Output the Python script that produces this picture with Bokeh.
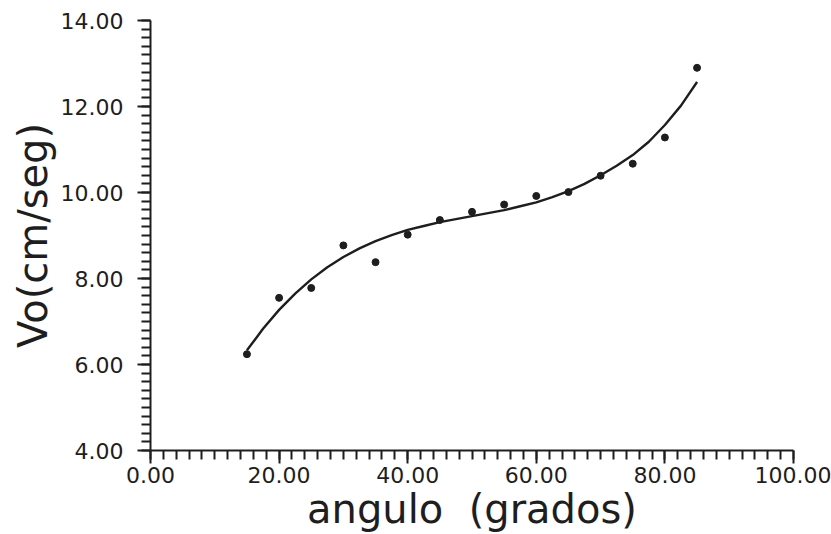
from bokeh.plotting import figure
from bokeh.models import SingleIntervalTicker, PrintfTickFormatter
from bokeh.embed import file_html
from bokeh.resources import INLINE

# measured points
angulo = [15, 20, 25, 30, 35, 40, 45, 50, 55, 60, 65, 70, 75, 80, 85]
vo = [6.24, 7.55, 7.78, 8.77, 8.38, 9.02, 9.36, 9.55, 9.72, 9.92, 10.01, 10.39, 10.67, 11.28, 12.90]

# fitted curve
curve_x = [15, 17.5, 20, 22.5, 25, 27.5, 30, 32.5, 35, 37.5, 40, 42.5, 45, 47.5, 50,
           52.5, 55, 57.5, 60, 62.5, 65, 67.5, 70, 72.5, 75, 77.5, 80, 82.5, 85]
curve_y = [6.33, 6.83, 7.27, 7.65, 7.98, 8.26, 8.50, 8.70, 8.87, 9.01, 9.13, 9.22, 9.31, 9.38, 9.45,
           9.52, 9.59, 9.68, 9.77, 9.89, 10.03, 10.20, 10.40, 10.62, 10.87, 11.18, 11.57, 12.02, 12.57]

x_title = "angulo\u00a0\u00a0(grados)"
y_title = "Vo(cm/seg)"

FONT = "DejaVu Sans"
INK = "#1e1e1e"

p = figure(width=831, height=534, x_range=(0, 100), y_range=(4, 14),
           output_backend="svg", toolbar_location=None,
           min_border_left=150, min_border_right=38, min_border_top=20, min_border_bottom=83)
p.outline_line_color = None
p.xgrid.visible = False
p.ygrid.visible = False
p.background_fill_color = "white"
p.border_fill_color = "white"

p.line(curve_x, curve_y, line_color=INK, line_width=2.4)
p.scatter(angulo, vo, size=7, color=INK)

p.xaxis.ticker = SingleIntervalTicker(interval=20, num_minor_ticks=10)
p.yaxis.ticker = SingleIntervalTicker(interval=2, num_minor_ticks=10)

for ax in (p.xaxis, p.yaxis):
    ax.formatter = PrintfTickFormatter(format="%.2f")
    ax.axis_line_color = INK
    ax.axis_line_width = 2
    ax.major_tick_line_color = INK
    ax.major_tick_line_width = 2
    ax.minor_tick_line_color = INK
    ax.minor_tick_line_width = 2
    ax.major_tick_in = 0
    ax.minor_tick_in = 0
    ax.major_tick_out = 13
    ax.minor_tick_out = 9
    ax.major_label_text_font = FONT
    ax.major_label_text_font_size = "22px"
    ax.major_label_text_color = INK
    ax.axis_label_text_font = FONT
    ax.axis_label_text_font_size = "40px"
    ax.axis_label_text_font_style = "normal"
    ax.axis_label_text_color = INK

p.xaxis.axis_label = x_title
p.yaxis.axis_label = y_title
p.xaxis.major_label_standoff = 3
p.yaxis.major_label_standoff = 14
p.xaxis.axis_label_standoff = 0
p.yaxis.axis_label_standoff = 2

open("out.html", "w").write(file_html(p, INLINE))
